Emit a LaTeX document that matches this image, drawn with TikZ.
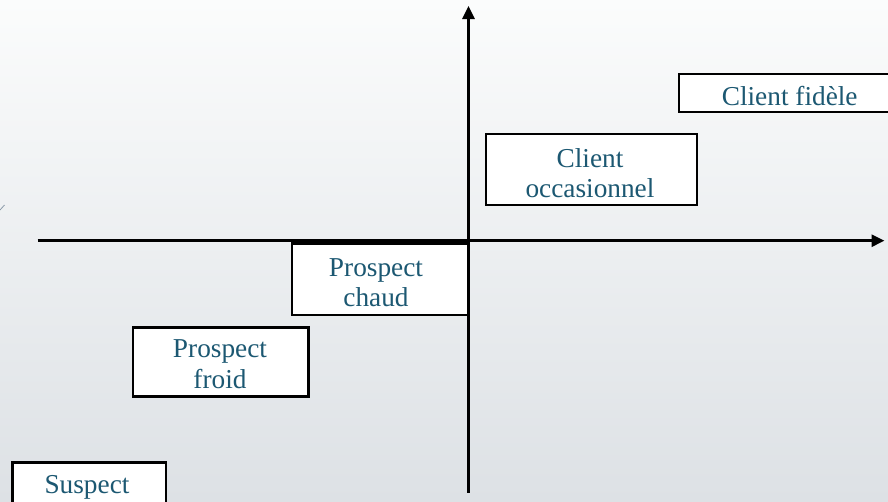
\documentclass[tikz,border=0pt]{standalone}
\usepackage{fontspec}
\setmainfont{Liberation Serif}
\usetikzlibrary{arrows.meta}
\definecolor{txt}{RGB}{28,88,114}
\definecolor{bgtop}{RGB}{251,252,252}
\definecolor{bgbot}{RGB}{221,225,229}
\definecolor{tickgrey}{RGB}{140,155,170}
\begin{document}
\begin{tikzpicture}[x=1pt,y=-1pt,
  box/.style={draw=black,line width=2.4pt,fill=white,inner sep=0pt,anchor=center},
  lbl/.style={text=txt,align=center,font=\fontsize{27.3}{30.5}\selectfont,inner sep=0pt,anchor=base},
  axis/.style={line width=2.8pt,-{Triangle[length=13pt,width=12pt]}}]
\useasboundingbox (0,0) rectangle (888,501);
\begin{scope}
\clip (0,0) rectangle (888,501);
\shade[top color=bgtop,bottom color=bgbot] (0,0) rectangle (888,501);
\draw[tickgrey,line width=0.8pt] (0,210) -- (4.5,205);
% axes
\coordinate (yb) at (468.5,492.5);
\coordinate (yt) at (468.5,6);
\coordinate (xl) at (37.5,240.7);
\coordinate (xr) at (884.5,240.7);
\draw[axis] (yb) -- (yt);
\draw[axis] (xl) -- (xr);
% boxes
\node[box,minimum width=222pt,minimum height=38pt] (b1) at (790,93) {};
\node[box,minimum width=211pt,minimum height=71pt] (b2) at (591.5,169.5) {};
\node[box,minimum width=176.5pt,minimum height=71.5pt] (b3) at (380.25,279.25) {};
\node[box,minimum width=175.5pt,minimum height=69pt] (b4) at (220.75,362) {};
\node[box,minimum width=153.5pt,minimum height=49pt] (b5) at (89.25,487) {};
% labels (base = baseline of the last line)
\node[lbl] (t1) at (789.7,105) {Client fidèle};
\node[lbl] (t2) at (590,197.7) {Client\\occasionnel};
\node[lbl] (t3) at (376,306.7) {Prospect\\chaud};
\node[lbl] (t4) at (220,388.3) {Prospect\\froid};
\node[lbl] (t5) at (87,493) {Suspect};
\end{scope}
\end{tikzpicture}
\end{document}
